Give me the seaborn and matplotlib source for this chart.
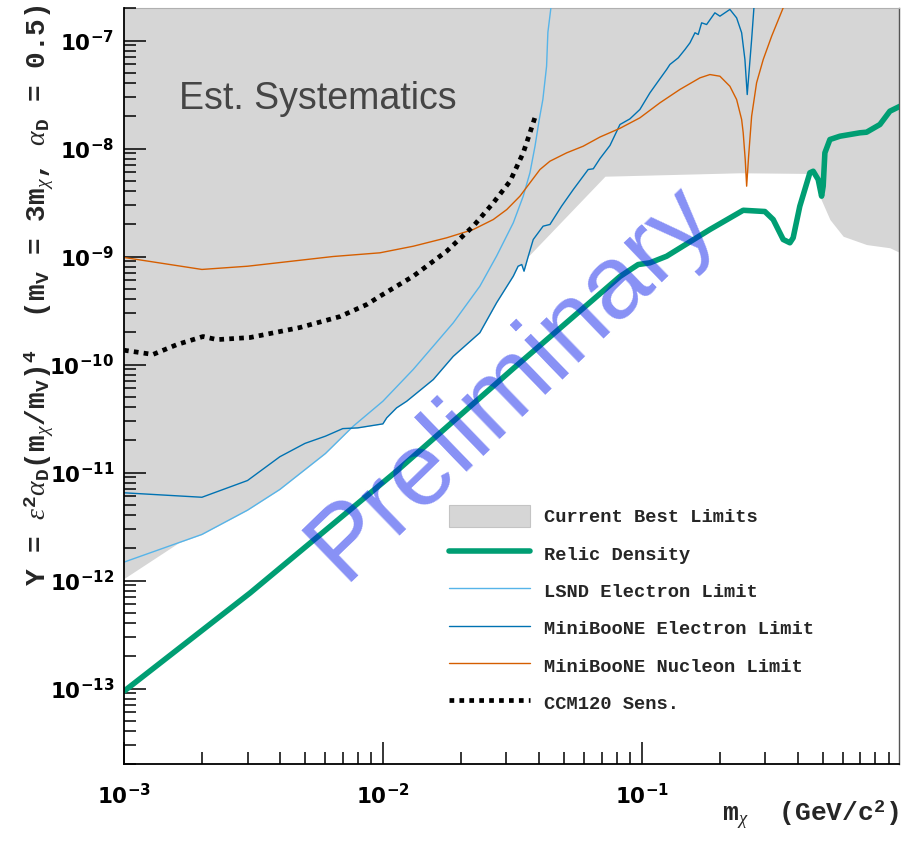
import numpy as np
import pandas as pd
import matplotlib
matplotlib.use("Agg")
import matplotlib.pyplot as plt
import seaborn as sns
from matplotlib.lines import Line2D
from matplotlib.patches import Patch
from matplotlib.ticker import LogLocator, NullFormatter

# ---------------- data ----------------
limit_x = [1.0e-3, 1.621e-3, 2.0e-3, 3.0e-3, 4.0e-3, 6.0e-3, 7.5e-3, 8.0e-3, 1.0e-2, 1.035e-2,
           1.13e-2, 1.236e-2, 1.566e-2, 1.87e-2, 2.37e-2, 2.75e-2, 3.19e-2, 3.33e-2, 3.44e-2,
           3.51e-2, 3.645e-2, 7.21e-2, 0.2394, 0.4737, 0.4805, 0.5333, 0.600, 0.739, 0.909, 1.0]
limit_y = [1.044e-12, 2.23e-12, 2.67e-12, 4.48e-12, 6.97e-12, 1.50e-11, 2.55e-11, 2.59e-11,
           2.82e-11, 3.21e-11, 3.97e-11, 4.57e-11, 7.26e-11, 1.19e-10, 1.97e-10, 3.73e-10,
           6.57e-10, 8.13e-10, 8.43e-10, 7.31e-10, 1.006e-9, 5.54e-9, 5.96e-9, 5.87e-9, 3.89e-9,
           2.20e-9, 1.54e-9, 1.29e-9, 1.205e-9, 1.08e-9]

relic_x = [1.0e-3, 3.07e-3, 1.13e-2, 3.19e-2, 8.24e-2, 9.69e-2, 0.1076, 0.1248, 0.1834, 0.2466,
           0.299, 0.322, 0.352, 0.3736, 0.3846, 0.408, 0.4463, 0.4596, 0.4805, 0.4953, 0.5023,
           0.510, 0.5333, 0.583, 0.6966, 0.739, 0.832, 0.909, 0.994]
relic_y = [9.44e-14, 7.67e-13, 1.03e-11, 9.18e-11, 6.53e-10, 8.43e-10, 8.74e-10, 1.006e-9,
           1.778e-9, 2.68e-9, 2.61e-9, 2.20e-9, 1.437e-9, 1.34e-9, 1.49e-9, 2.92e-9, 5.96e-9,
           6.16e-9, 5.16e-9, 3.62e-9, 4.48e-9, 9.12e-9, 1.211e-8, 1.30e-8, 1.398e-8, 1.416e-8,
           1.668e-8, 2.215e-8, 2.46e-8]

lsnd_x = [1.0e-3, 2.0e-3, 3.0e-3, 4.0e-3, 6.0e-3, 7.69e-3, 1.0e-2, 1.31e-2, 1.566e-2, 1.87e-2,
          2.37e-2, 2.75e-2, 3.19e-2, 3.485e-2, 3.70e-2, 3.87e-2, 4.02e-2, 4.15e-2, 4.29e-2,
          4.34e-2, 4.46e-2, 4.52e-2]
lsnd_y = [1.48e-12, 2.67e-12, 4.48e-12, 6.97e-12, 1.50e-11, 2.69e-11, 4.57e-11, 9.0e-11,
          1.48e-10, 2.43e-10, 5.31e-10, 1.01e-9, 2.05e-9, 3.62e-9, 5.96e-9, 1.05e-8, 1.86e-8,
          2.84e-8, 5.78e-8, 1.19e-7, 2.02e-7, 3.0e-7]

mbe_x = [1.0e-3, 2.0e-3, 3.0e-3, 4.0e-3, 5.0e-3, 6.0e-3, 7.0e-3, 8.0e-3, 1.0e-2, 1.035e-2,
         1.13e-2, 1.236e-2, 1.566e-2, 1.87e-2, 2.37e-2, 2.75e-2, 3.19e-2, 3.33e-2, 3.44e-2,
         3.51e-2, 3.645e-2, 3.81e-2, 4.16e-2, 4.42e-2, 4.90e-2, 5.44e-2, 6.21e-2, 6.50e-2,
         6.90e-2, 7.54e-2, 8.24e-2, 9.0e-2, 9.84e-2, 0.1076, 0.1158, 0.1248, 0.1285, 0.1384,
         0.1469, 0.1536, 0.1606, 0.1653, 0.1704, 0.1781, 0.1917, 0.2005, 0.2191, 0.2326,
         0.2432, 0.2504, 0.2556, 0.2602, 0.2658, 0.2713, 0.2740]
mbe_y = [6.49e-12, 5.90e-12, 8.43e-12, 1.40e-11, 1.86e-11, 2.17e-11, 2.55e-11, 2.59e-11,
         2.82e-11, 3.21e-11, 3.97e-11, 4.57e-11, 7.26e-11, 1.19e-10, 1.97e-10, 3.73e-10,
         6.57e-10, 8.13e-10, 8.43e-10, 7.31e-10, 1.006e-9, 1.437e-9, 1.91e-9, 1.98e-9, 2.92e-9,
         4.17e-9, 6.39e-9, 6.49e-9, 8.08e-9, 1.067e-8, 1.668e-8, 1.88e-8, 2.30e-8, 3.28e-8,
         4.20e-8, 5.39e-8, 6.0e-8, 6.91e-8, 8.25e-8, 9.52e-8, 1.18e-7, 1.137e-7, 1.458e-7,
         1.406e-7, 1.805e-7, 1.68e-7, 1.94e-7, 1.62e-7, 1.18e-7, 6.67e-8, 3.16e-8, 5.39e-8,
         1.02e-7, 2.01e-7, 3.0e-7]

mbn_x = [1.0e-3, 2.0e-3, 3.0e-3, 6.42e-3, 9.74e-3, 1.31e-2, 1.764e-2, 2.235e-2, 2.67e-2,
         3.01e-2, 3.385e-2, 3.70e-2, 4.045e-2, 4.42e-2, 5.13e-2, 5.94e-2, 6.90e-2, 8.24e-2,
         9.84e-2, 0.1176, 0.1404, 0.1678, 0.1834, 0.2005, 0.2191, 0.2326, 0.2432, 0.2466,
         0.2511, 0.2543, 0.2588, 0.2658, 0.2778, 0.2947, 0.3176, 0.352, 0.365]
mbn_y = [9.8e-10, 7.59e-10, 8.13e-10, 1.0e-9, 1.082e-9, 1.245e-9, 1.49e-9, 1.778e-9, 2.20e-9,
         2.72e-9, 3.62e-9, 4.81e-9, 6.39e-9, 7.63e-9, 9.12e-9, 1.05e-8, 1.278e-8, 1.538e-8,
         1.924e-8, 2.65e-8, 3.52e-8, 4.51e-8, 4.84e-8, 4.67e-8, 3.77e-8, 2.84e-8, 1.856e-8,
         1.40e-8, 7.9e-9, 4.48e-9, 8.5e-9, 1.99e-8, 4.06e-8, 6.67e-8, 1.096e-7, 2.01e-7, 2.6e-7]

ccm_x = [1.0e-3, 1.294e-3, 1.602e-3, 2.02e-3, 2.287e-3, 3.07e-3, 4.78e-3, 6.83e-3, 8.68e-3,
         9.74e-3, 1.31e-2, 1.764e-2, 2.235e-2, 2.67e-2, 3.10e-2, 3.485e-2, 3.70e-2, 3.90e-2]
ccm_y = [1.356e-10, 1.239e-10, 1.53e-10, 1.816e-10, 1.70e-10, 1.778e-10, 2.20e-10, 2.78e-10,
         3.6e-10, 4.29e-10, 6.57e-10, 1.12e-9, 1.91e-9, 3.14e-9, 4.98e-9, 9.12e-9, 1.398e-8,
         2.06e-8]

legend_labels = ["Current Best Limits", "Relic Density", "LSND Electron Limit",
                 "MiniBooNE Electron Limit", "MiniBooNE Nucleon Limit", "CCM120 Sens."]

x_decades = [-3, -2, -1]
y_decades = [-13, -12, -11, -10, -9, -8, -7]

# ---------------- style ----------------
sns.set_theme(style="ticks")
plt.rcParams.update({
    "font.family": ["DejaVu Sans"],
    "mathtext.fontset": "custom",
    "mathtext.rm": "Liberation Mono:bold",
    "mathtext.bf": "Liberation Mono:bold",
    "mathtext.it": "Liberation Serif:italic",
    "axes.unicode_minus": True,
})

C_FILL = "#d6d6d6"
C_RELIC = "#009E73"
C_LSND = "#56B4E9"
C_MBE = "#0072B2"
C_MBN = "#D55E00"

fig = plt.figure(figsize=(9.14, 8.41), dpi=100)
ax = fig.add_axes([124 / 914, 77 / 841, 775 / 914, 756 / 841])
ax.set_xscale("log")
ax.set_yscale("log")
XMIN, XMAX = 1e-3, 0.986
YMIN, YMAX = 2.0e-14, 2.0e-7
ax.set_xlim(XMIN, XMAX)
ax.set_ylim(YMIN, YMAX)
ax.set_axisbelow(False)

# current best limits region
ax.fill_between(limit_x, limit_y, 1e-5, color=C_FILL, lw=0, zorder=1)

def draw(xs, ys, color, lw, z):
    df = pd.DataFrame({"x": xs, "y": ys})
    sns.lineplot(data=df, x="x", y="y", ax=ax, color=color, lw=lw, sort=False,
                 estimator=None, zorder=z)
    return ax.lines[-1]

draw(lsnd_x, lsnd_y, C_LSND, 1.0, 3)
draw(mbe_x, mbe_y, C_MBE, 1.0, 3)
draw(mbn_x, mbn_y, C_MBN, 1.0, 3)
ccm_line = draw(ccm_x, ccm_y, "black", 3.4, 4)
ccm_line.set_dashes([1, 1.1])
draw(relic_x, relic_y, C_RELIC, 4.0, 5)

# axes / ticks
ax.set_xticks([10.0 ** d for d in x_decades])
ax.set_yticks([10.0 ** d for d in y_decades])
ax.xaxis.set_minor_locator(LogLocator(base=10, subs=np.arange(2, 10), numticks=100))
ax.yaxis.set_minor_locator(LogLocator(base=10, subs=np.arange(2, 10), numticks=100))
ax.xaxis.set_minor_formatter(NullFormatter())
ax.yaxis.set_minor_formatter(NullFormatter())
ax.set_xlim(XMIN, XMAX)
ax.set_ylim(YMIN, YMAX)
ax.tick_params(which="major", direction="in", length=16, width=1.1, color="black",
               left=True, bottom=True, right=False, top=False)
ax.tick_params(which="minor", direction="in", length=8.3, width=1.1, color="black",
               left=True, bottom=True, right=False, top=False)
ax.tick_params(axis="x", which="major", pad=14)
ax.tick_params(axis="y", which="major", pad=7)
for lab in ax.get_xticklabels() + ax.get_yticklabels():
    lab.set_fontsize(15.5)
    lab.set_fontweight("bold")
    lab.set_fontfamily("DejaVu Sans")
    lab.set_color("black")

for side in ["left", "bottom"]:
    ax.spines[side].set_color("black")
    ax.spines[side].set_linewidth(1.3)
    ax.spines[side].set_zorder(6)
ax.spines["top"].set_color("#b0b0b0")
ax.spines["top"].set_linewidth(0.8)
ax.spines["right"].set_color("#555555")
ax.spines["right"].set_linewidth(1.0)
ax.set_facecolor("white")
ax.grid(False)

ax.set_ylabel(r"Y = $\varepsilon^{2}\alpha_{\mathrm{D}}$(m$_{\chi}$/m$_{\mathrm{V}}$)$^{4}$  "
              r"(m$_{\mathrm{V}}$ = 3m$_{\chi}$, $\alpha_{\mathrm{D}}$ = 0.5)",
              loc="top", fontsize=20, fontfamily="Liberation Mono", fontweight="bold")
ax.yaxis.set_label_coords(-0.088, 1.004)
ax.set_xlabel(r"m$_{\chi}$  (GeV/c$^{\mathrm{2}}$)", loc="right", fontsize=19,
              fontfamily="Liberation Mono", fontweight="bold")
ax.xaxis.set_label_coords(1.0, -0.045)

# annotations
ax.text(0.071, 0.867, "Est. Systematics", transform=ax.transAxes, fontsize=27,
        fontfamily="Liberation Sans", color="#454545", ha="left", va="baseline", zorder=6)
ax.text(0.524, 0.480, "Preliminary", transform=ax.transAxes, fontsize=75,
        fontfamily="Liberation Sans", color=(0.0, 0.08, 0.92), alpha=0.47, rotation=44,
        rotation_mode="anchor", ha="center", va="baseline", zorder=10)

# legend
handles = [
    Patch(facecolor=C_FILL, edgecolor="#c4c4c4", linewidth=0.8),
    Line2D([], [], color=C_RELIC, lw=4.0),
    Line2D([], [], color=C_LSND, lw=1.0),
    Line2D([], [], color=C_MBE, lw=1.0),
    Line2D([], [], color=C_MBN, lw=1.0),
    Line2D([], [], color="black", lw=3.4, dashes=[1, 1.1]),
]
leg = ax.legend(handles, legend_labels, loc="upper left", bbox_to_anchor=(0.4197, 0.3422),
                borderaxespad=0, borderpad=0, frameon=False, handlelength=4.3,
                handleheight=1.385, handletextpad=0.75, labelspacing=0.845,
                prop={"family": "Liberation Mono", "weight": "bold", "size": 13.5})
leg.set_zorder(8)

fig.savefig("out.png", dpi=100, facecolor="white")
